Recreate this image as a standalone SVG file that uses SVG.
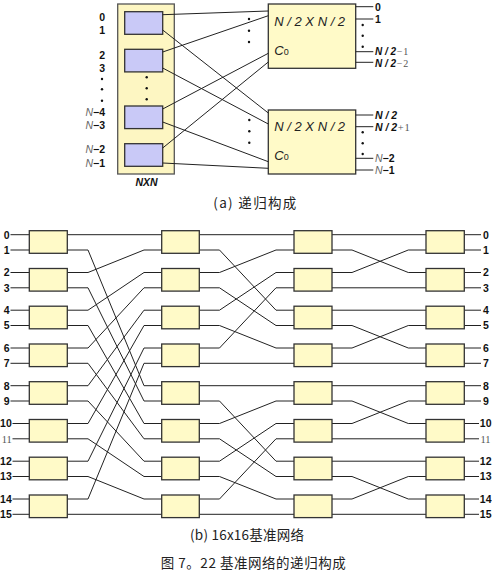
<svg xmlns="http://www.w3.org/2000/svg" width="492" height="571" viewBox="0 0 492 571">
<style>
.lbl{font-family:"Liberation Sans",Arial,sans-serif;font-size:10.5px;font-weight:bold;fill:#111}
.ser{font-family:"Liberation Serif","Times New Roman",serif;font-weight:normal;fill:#555}
.nit{font-family:"Liberation Sans",Arial,sans-serif;font-style:italic;font-weight:normal;fill:#666}
.bi{font-style:italic}
.sm{font-size:10px}
.big{font-family:"Liberation Sans",Arial,sans-serif;font-size:13px;font-style:italic;fill:#222}
.sw{fill:#fffac8;stroke:#333;stroke-width:1.3}
.sub{fill:#c9c9f7;stroke:#333;stroke-width:1.3}
.frame{fill:#fdf6c2;stroke:#555;stroke-width:1.3}
.conn path,.conn line{stroke:#222;stroke-width:1;fill:none}
.cap{font-family:"Noto Sans CJK SC","Noto Sans",sans-serif;font-size:13.5px;fill:#222}
.dot{fill:#111}
</style>

<!-- ===== (a) recursive construction ===== -->
<g id="nxn">
  <rect class="frame" x="117.7" y="4" width="56.6" height="170"/>
  <rect class="sub" x="124.7" y="11.7" width="38" height="22.6"/>
  <rect class="sub" x="124.7" y="49.3" width="38" height="22.6"/>
  <rect class="sub" x="124.7" y="106" width="38" height="22.6"/>
  <rect class="sub" x="124.7" y="143.7" width="38" height="22.6"/>
  <circle class="dot" cx="146.7" cy="77.3" r="1.2"/>
  <circle class="dot" cx="146.7" cy="88.3" r="1.2"/>
  <circle class="dot" cx="146.7" cy="99.3" r="1.2"/>
  <text class="lbl bi" x="146.5" y="186" text-anchor="middle">NXN</text>
</g>
<g id="nxn-labels">
  <text class="lbl" x="105" y="21.3" text-anchor="end">0</text>
  <text class="lbl" x="105" y="34" text-anchor="end">1</text>
  <text class="lbl" x="105" y="59" text-anchor="end">2</text>
  <text class="lbl" x="105" y="71.7" text-anchor="end">3</text>
  <circle class="dot" cx="102" cy="79" r="1.2"/>
  <circle class="dot" cx="102" cy="89.3" r="1.2"/>
  <circle class="dot" cx="102" cy="100.7" r="1.2"/>
  <text class="lbl" x="105" y="116.3" text-anchor="end"><tspan class="nit">N</tspan>−4</text>
  <text class="lbl" x="105" y="128.7" text-anchor="end"><tspan class="nit">N</tspan>−3</text>
  <text class="lbl" x="105" y="153.3" text-anchor="end"><tspan class="nit">N</tspan>−2</text>
  <text class="lbl" x="105" y="166.7" text-anchor="end"><tspan class="nit">N</tspan>−1</text>
</g>
<g id="sub-top">
  <rect class="sw" x="268.3" y="4" width="87.4" height="64.3"/>
  <text class="big" x="274.3" y="26.3">N / 2 X N / 2</text>
  <text class="big" x="274.3" y="55">C<tspan font-size="9" font-style="normal">0</tspan></text>
  <circle class="dot" cx="249" cy="19" r="1.2"/>
  <circle class="dot" cx="249" cy="30.7" r="1.2"/>
  <circle class="dot" cx="249" cy="42" r="1.2"/>
  <circle class="dot" cx="362.7" cy="25" r="1.2"/>
  <circle class="dot" cx="362.7" cy="35.7" r="1.2"/>
  <circle class="dot" cx="362.7" cy="46.7" r="1.2"/>
  <text class="lbl" x="375" y="10.5">0</text>
  <text class="lbl" x="375" y="22.8">1</text>
  <text class="lbl sm" x="375" y="55"><tspan class="bi">N / 2</tspan><tspan class="ser" dx="0.5" letter-spacing="1">−1</tspan></text>
  <text class="lbl sm" x="375" y="66.5"><tspan class="bi">N / 2</tspan><tspan class="ser" dx="0.5" letter-spacing="1">−2</tspan></text>
</g>
<g id="sub-bottom">
  <rect class="sw" x="268.3" y="110" width="87.4" height="64"/>
  <text class="big" x="274.3" y="131.3">N / 2 X N / 2</text>
  <text class="big" x="274.3" y="160">C<tspan font-size="9" font-style="normal">0</tspan></text>
  <circle class="dot" cx="249.3" cy="120" r="1.2"/>
  <circle class="dot" cx="249.3" cy="131.3" r="1.2"/>
  <circle class="dot" cx="249.3" cy="142.7" r="1.2"/>
  <circle class="dot" cx="362.7" cy="132.3" r="1.2"/>
  <circle class="dot" cx="362.7" cy="143.3" r="1.2"/>
  <circle class="dot" cx="362.7" cy="154" r="1.2"/>
  <text class="lbl" x="375" y="118.8"><tspan class="bi">N / 2</tspan></text>
  <text class="lbl" x="375" y="130.5"><tspan class="bi">N / 2</tspan><tspan class="ser" dx="0.5" letter-spacing="1">+1</tspan></text>
  <text class="lbl" x="375" y="161.5"><tspan class="nit">N</tspan>−2</text>
  <text class="lbl" x="375" y="173.5"><tspan class="nit">N</tspan>−1</text>
</g>
<g class="conn" id="conn-a">
  <line x1="162.7" y1="14.7" x2="268.3" y2="11"/>
  <line x1="162.7" y1="30" x2="268.3" y2="113"/>
  <line x1="162.7" y1="52" x2="268.3" y2="15.7"/>
  <line x1="162.7" y1="68" x2="268.3" y2="124"/>
  <line x1="162.7" y1="109" x2="268.3" y2="53.3"/>
  <line x1="162.7" y1="122" x2="268.3" y2="161.7"/>
  <line x1="162.7" y1="148" x2="268.3" y2="62"/>
  <line x1="162.7" y1="163" x2="268.3" y2="168.3"/>
  <line x1="355.7" y1="6.7" x2="373.3" y2="6.7"/>
  <line x1="355.7" y1="19" x2="373.3" y2="19"/>
  <line x1="355.7" y1="51.7" x2="373.3" y2="51.7"/>
  <line x1="355.7" y1="62.3" x2="373.3" y2="62.3"/>
  <line x1="355.7" y1="115" x2="373.3" y2="115"/>
  <line x1="355.7" y1="126.7" x2="373.3" y2="126.7"/>
  <line x1="355.7" y1="158.3" x2="373.3" y2="158.3"/>
  <line x1="355.7" y1="170" x2="373.3" y2="170"/>
</g>
<text class="cap" x="213.3" y="208" textLength="83" lengthAdjust="spacing">(a) 递归构成</text>

<!-- ===== (b) 16x16 baseline network ===== -->
<g class="conn" id="conn-b">
  <path d="M10.5 234.7H29.3M10.5 250H29.3M10.5 272.5H29.3M10.5 287.8H29.3M10.5 310.2H29.3M10.5 325.5H29.3M10.5 348H29.3M10.5 363.3H29.3M10.5 385.7H29.3M10.5 401H29.3M12.5 423.5H29.3M12.5 438.8H29.3M12.5 461.2H29.3M12.5 476.5H29.3M12.5 499H29.3M12.5 514.3H29.3"/>
  <path d="M464.3 234.7H481M464.3 250H481M464.3 272.5H481M464.3 287.8H481M464.3 310.2H481M464.3 325.5H481M464.3 348H481M464.3 363.3H481M464.3 385.7H481M464.3 401H481M464.3 423.5H479M464.3 438.8H479M464.3 461.2H479M464.3 476.5H479M464.3 499H479M464.3 514.3H479"/>
  <path d="M67.3 234.7H161.7"/>
  <path d="M67.3 250H88L144 385.7H161.7"/>
  <path d="M67.3 272.5H88L144 250H161.7"/>
  <path d="M67.3 287.8H88L144 401H161.7"/>
  <path d="M67.3 310.2H88L144 272.5H161.7"/>
  <path d="M67.3 325.5H88L144 423.5H161.7"/>
  <path d="M67.3 348H88L144 287.8H161.7"/>
  <path d="M67.3 363.3H88L144 438.8H161.7"/>
  <path d="M67.3 385.7H88L144 310.2H161.7"/>
  <path d="M67.3 401H88L144 461.2H161.7"/>
  <path d="M67.3 423.5H88L144 325.5H161.7"/>
  <path d="M67.3 438.8H88L144 476.5H161.7"/>
  <path d="M67.3 461.2H88L144 348H161.7"/>
  <path d="M67.3 476.5H88L144 499H161.7"/>
  <path d="M67.3 499H88L144 363.3H161.7"/>
  <path d="M67.3 514.3H161.7"/>
  <path d="M199.3 234.7H294"/>
  <path d="M199.3 250H219.5L276 310.2H294"/>
  <path d="M199.3 272.5H219.5L276 250H294"/>
  <path d="M199.3 287.8H219.5L276 325.5H294"/>
  <path d="M199.3 310.2H219.5L276 272.5H294"/>
  <path d="M199.3 325.5H219.5L276 348H294"/>
  <path d="M199.3 348H219.5L276 287.8H294"/>
  <path d="M199.3 363.3H294"/>
  <path d="M199.3 385.7H294"/>
  <path d="M199.3 401H219.5L276 461.2H294"/>
  <path d="M199.3 423.5H219.5L276 401H294"/>
  <path d="M199.3 438.8H219.5L276 476.5H294"/>
  <path d="M199.3 461.2H219.5L276 423.5H294"/>
  <path d="M199.3 476.5H219.5L276 499H294"/>
  <path d="M199.3 499H219.5L276 438.8H294"/>
  <path d="M199.3 514.3H294"/>
  <path d="M332 234.7H426"/>
  <path d="M332 250H352L408.3 272.5H426"/>
  <path d="M332 272.5H352L408.3 250H426"/>
  <path d="M332 287.8H426"/>
  <path d="M332 310.2H426"/>
  <path d="M332 325.5H352L408.3 348H426"/>
  <path d="M332 348H352L408.3 325.5H426"/>
  <path d="M332 363.3H426"/>
  <path d="M332 385.7H426"/>
  <path d="M332 401H352L408.3 423.5H426"/>
  <path d="M332 423.5H352L408.3 401H426"/>
  <path d="M332 438.8H426"/>
  <path d="M332 461.2H426"/>
  <path d="M332 476.5H352L408.3 499H426"/>
  <path d="M332 499H352L408.3 476.5H426"/>
  <path d="M332 514.3H426"/>
</g>
<g id="stage1">
  <rect class="sw" x="29.3" y="230.7" width="38" height="22.6"/>
  <rect class="sw" x="29.3" y="268.5" width="38" height="22.6"/>
  <rect class="sw" x="29.3" y="306.2" width="38" height="22.6"/>
  <rect class="sw" x="29.3" y="344" width="38" height="22.6"/>
  <rect class="sw" x="29.3" y="381.7" width="38" height="22.6"/>
  <rect class="sw" x="29.3" y="419.5" width="38" height="22.6"/>
  <rect class="sw" x="29.3" y="457.2" width="38" height="22.6"/>
  <rect class="sw" x="29.3" y="495" width="38" height="22.6"/>
</g>
<g id="stage2">
  <rect class="sw" x="161.7" y="230.7" width="37.6" height="22.6"/>
  <rect class="sw" x="161.7" y="268.5" width="37.6" height="22.6"/>
  <rect class="sw" x="161.7" y="306.2" width="37.6" height="22.6"/>
  <rect class="sw" x="161.7" y="344" width="37.6" height="22.6"/>
  <rect class="sw" x="161.7" y="381.7" width="37.6" height="22.6"/>
  <rect class="sw" x="161.7" y="419.5" width="37.6" height="22.6"/>
  <rect class="sw" x="161.7" y="457.2" width="37.6" height="22.6"/>
  <rect class="sw" x="161.7" y="495" width="37.6" height="22.6"/>
</g>
<g id="stage3">
  <rect class="sw" x="294" y="230.7" width="38" height="22.6"/>
  <rect class="sw" x="294" y="268.5" width="38" height="22.6"/>
  <rect class="sw" x="294" y="306.2" width="38" height="22.6"/>
  <rect class="sw" x="294" y="344" width="38" height="22.6"/>
  <rect class="sw" x="294" y="381.7" width="38" height="22.6"/>
  <rect class="sw" x="294" y="419.5" width="38" height="22.6"/>
  <rect class="sw" x="294" y="457.2" width="38" height="22.6"/>
  <rect class="sw" x="294" y="495" width="38" height="22.6"/>
</g>
<g id="stage4">
  <rect class="sw" x="426" y="230.7" width="38.3" height="22.6"/>
  <rect class="sw" x="426" y="268.5" width="38.3" height="22.6"/>
  <rect class="sw" x="426" y="306.2" width="38.3" height="22.6"/>
  <rect class="sw" x="426" y="344" width="38.3" height="22.6"/>
  <rect class="sw" x="426" y="381.7" width="38.3" height="22.6"/>
  <rect class="sw" x="426" y="419.5" width="38.3" height="22.6"/>
  <rect class="sw" x="426" y="457.2" width="38.3" height="22.6"/>
  <rect class="sw" x="426" y="495" width="38.3" height="22.6"/>
</g>
<g id="inputs">
  <text class="lbl" x="9.5" y="238.5" text-anchor="end">0</text>
  <text class="lbl" x="9.5" y="253.8" text-anchor="end">1</text>
  <text class="lbl" x="9.5" y="276.3" text-anchor="end">2</text>
  <text class="lbl" x="9.5" y="291.6" text-anchor="end">3</text>
  <text class="lbl" x="9.5" y="314" text-anchor="end">4</text>
  <text class="lbl" x="9.5" y="329.3" text-anchor="end">5</text>
  <text class="lbl" x="9.5" y="351.8" text-anchor="end">6</text>
  <text class="lbl" x="9.5" y="367.1" text-anchor="end">7</text>
  <text class="lbl" x="9.5" y="389.5" text-anchor="end">8</text>
  <text class="lbl" x="9.5" y="404.8" text-anchor="end">9</text>
  <text class="lbl" x="11.8" y="427.3" text-anchor="end">10</text>
  <text class="lbl ser" x="11.8" y="442.6" text-anchor="end" font-size="11.5">11</text>
  <text class="lbl" x="11.8" y="465" text-anchor="end">12</text>
  <text class="lbl" x="11.8" y="480.3" text-anchor="end">13</text>
  <text class="lbl" x="11.8" y="502.8" text-anchor="end">14</text>
  <text class="lbl" x="11.8" y="518.1" text-anchor="end">15</text>
</g>
<g id="outputs">
  <text class="lbl" x="483" y="238.5">0</text>
  <text class="lbl" x="483" y="253.8">1</text>
  <text class="lbl" x="483" y="276.3">2</text>
  <text class="lbl" x="483" y="291.6">3</text>
  <text class="lbl" x="483" y="314">4</text>
  <text class="lbl" x="483" y="329.3">5</text>
  <text class="lbl" x="483" y="351.8">6</text>
  <text class="lbl" x="483" y="367.1">7</text>
  <text class="lbl" x="483" y="389.5">8</text>
  <text class="lbl" x="483" y="404.8">9</text>
  <text class="lbl" x="479.8" y="427.3">10</text>
  <text class="lbl ser" x="480.5" y="442.6" font-size="11.5">11</text>
  <text class="lbl" x="479.8" y="465">12</text>
  <text class="lbl" x="479.8" y="480.3">13</text>
  <text class="lbl" x="479.8" y="502.8">14</text>
  <text class="lbl" x="479.8" y="518.1">15</text>
</g>
<text class="cap" x="190" y="540" textLength="114" lengthAdjust="spacing">(b) 16x16基准网络</text>
<text class="cap" x="160.7" y="568" textLength="185" lengthAdjust="spacing">图 7。22 基准网络的递归构成</text>
</svg>
